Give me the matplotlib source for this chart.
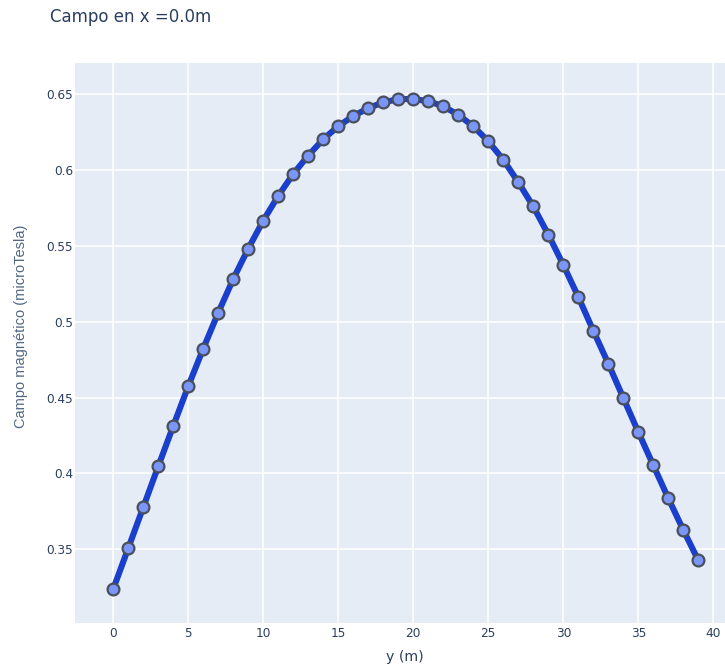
import matplotlib
matplotlib.use('Agg')
import matplotlib.pyplot as plt
import numpy as np

# posiciones y (m) y campo medido (microTesla)
y_pos = list(range(40))
campo = [0.3238, 0.3507, 0.3777, 0.4047, 0.4313, 0.4575, 0.4823, 0.5060,
         0.5282, 0.5482, 0.5667, 0.5830, 0.5975, 0.6096, 0.6204, 0.6289,
         0.6357, 0.6408, 0.6447, 0.6467, 0.6469, 0.6454, 0.6421, 0.6364,
         0.6289, 0.6190, 0.6068, 0.5920, 0.5760, 0.5575, 0.5375, 0.5164,
         0.4941, 0.4724, 0.4498, 0.4273, 0.4054, 0.3836, 0.3627, 0.3427]
x_ticks = [0, 5, 10, 15, 20, 25, 30, 35, 40]
y_ticks = [0.35, 0.4, 0.45, 0.5, 0.55, 0.6, 0.65]
y_ticklabels = ['0.35', '0.4', '0.45', '0.5', '0.55', '0.6', '0.65']

txt = '#2a3f5f'
plt.rcParams['font.family'] = ['DejaVu Sans']

fig = plt.figure(figsize=(7.25, 6.66), dpi=100)
ax = fig.add_axes([75/725, 1-622.5/666, 650/725, 559.5/666])
ax.set_facecolor('#E5ECF6')

ax.plot(y_pos, campo, color='#1a3fcc', lw=4.4, zorder=3,
        marker='o', ms=8.5, mfc='#7a96f8', mec='#4a4f5c', mew=1.6)

ax.set_xlim(-2.55, 40.78)
ax.set_ylim(0.3017, 0.6706)
ax.set_xticks(x_ticks)
ax.set_yticks(y_ticks)
ax.set_yticklabels(y_ticklabels)
ax.grid(True, color='white', lw=1.1)
ax.set_axisbelow(True)
for s in ax.spines.values():
    s.set_visible(False)
ax.tick_params(axis='both', length=0, labelsize=8.7, labelcolor=txt)
ax.tick_params(axis='y', pad=1.5)
ax.tick_params(axis='x', pad=3.5)

ax.set_xlabel('y (m)', fontsize=10.2, color=txt)
ax.xaxis.label.set_va('center')
ax.xaxis.set_label_coords(0.508, -0.0617)
ax.set_ylabel('Campo magnético (microTesla)', fontsize=10.5, color='#506784',
              family='Liberation Sans')
ax.yaxis.label.set_va('center')
ax.yaxis.set_label_coords(-0.083, 0.529)

fig.text(50/725, 1-17/666, 'Campo en x =0.0m', fontsize=12, color=txt,
         ha='left', va='center')

fig.savefig('out.png', dpi=100)
